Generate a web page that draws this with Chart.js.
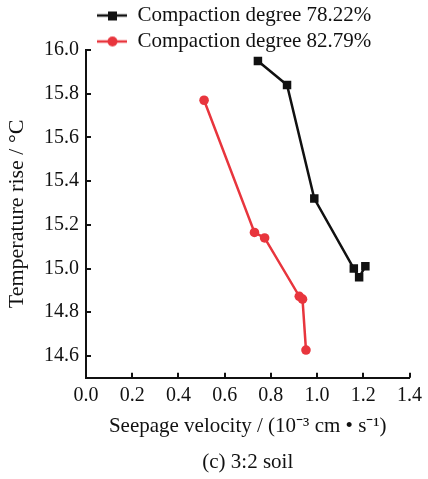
<!DOCTYPE html>
<html>
<head>
<meta charset="utf-8">
<script src="https://cdn.jsdelivr.net/npm/chart.js@4"></script>
<style>
  html, body { margin: 0; padding: 0; background: #fff; }
  #wrap { width: 428px; height: 479px; }
</style>
</head>
<body>
<div id="wrap"><canvas id="chart" width="428" height="479"></canvas></div>
<script>
// Datos
const seriesNames = ['Compaction degree 78.22%', 'Compaction degree 82.79%'];
const velocityA = [0.744, 0.870, 0.988, 1.159, 1.182, 1.209];
const tempA = [15.95, 15.84, 15.32, 15.00, 14.96, 15.01];
const velocityB = [0.511, 0.729, 0.773, 0.923, 0.937, 0.952];
const tempB = [15.77, 15.165, 15.14, 14.873, 14.86, 14.627];
const xTicks = [0.0, 0.2, 0.4, 0.6, 0.8, 1.0, 1.2, 1.4];
const yTicks = [14.6, 14.8, 15.0, 15.2, 15.4, 15.6, 15.8, 16.0];

const BLACK = '#111111';
const RED = '#e8353d';
const FONT = 'Liberation Serif, Times New Roman, serif';

function toPoints(xs, ys) {
    return xs.map((x, i) => ({ x: x, y: ys[i] }));
}

// Icono de leyenda: línea con marcador
function legendIcon(color, shape) {
    const c = document.createElement('canvas');
    c.width = 36;
    c.height = 14;
    const g = c.getContext('2d');
    g.strokeStyle = color;
    g.fillStyle = color;
    g.lineWidth = 2.5;
    g.beginPath();
    g.moveTo(6, 7);
    g.lineTo(36, 7);
    g.stroke();
    if (shape === 'rect') {
        g.fillRect(17, 3, 9, 9);
    } else {
        g.beginPath();
        g.arc(21.5, 7, 5, 0, Math.PI * 2);
        g.fill();
    }
    return c;
}

const icons = [legendIcon(BLACK, 'rect'), legendIcon(RED, 'circle')];

// La leyenda se recorta a su caja: se amplía para no cortar la segunda fila
const legendRoom = {
    id: 'legendRoom',
    afterLayout(chart) {
        if (chart.legend) {
            chart.legend.bottom += 12;
        }
    }
};

// Marcas de escala hacia dentro
const inwardTicks = {
    id: 'inwardTicks',
    afterDraw(chart) {
        const ctx = chart.ctx;
        const xs = chart.scales.x;
        const ys = chart.scales.y;
        const len = 5;
        ctx.save();
        ctx.strokeStyle = BLACK;
        ctx.lineWidth = 2;
        ctx.beginPath();
        xs.ticks.forEach(t => {
            const px = Math.round(xs.getPixelForValue(t.value));
            ctx.moveTo(px, ys.bottom);
            ctx.lineTo(px, ys.bottom - len);
        });
        ys.ticks.forEach(t => {
            const py = Math.round(ys.getPixelForValue(t.value));
            ctx.moveTo(xs.left, py);
            ctx.lineTo(xs.left + len, py);
        });
        ctx.stroke();
        ctx.restore();
    }
};

const ctx = document.getElementById('chart').getContext('2d');
new Chart(ctx, {
    type: 'line',
    data: {
        datasets: [
            {
                label: seriesNames[0],
                data: toPoints(velocityA, tempA),
                borderColor: BLACK,
                backgroundColor: BLACK,
                borderWidth: 2.5,
                pointStyle: 'rect',
                pointRadius: 6,
                pointBorderWidth: 0,
                tension: 0
            },
            {
                label: seriesNames[1],
                data: toPoints(velocityB, tempB),
                borderColor: RED,
                backgroundColor: RED,
                borderWidth: 2.5,
                pointStyle: 'circle',
                pointRadius: 4.8,
                pointBorderWidth: 0,
                tension: 0
            }
        ]
    },
    options: {
        responsive: false,
        animation: false,
        layout: { padding: 0 },
        plugins: {
            legend: {
                position: 'top',
                align: 'start',
                fullSize: false,
                maxHeight: 50,
                labels: {
                    usePointStyle: true,
                    pointStyleWidth: 36,
                    padding: 5,
                    color: BLACK,
                    font: { family: FONT, size: 21 },
                    generateLabels: chart => chart.data.datasets.map((ds, i) => ({
                        text: ds.label,
                        pointStyle: icons[i],
                        fillStyle: ds.borderColor,
                        strokeStyle: ds.borderColor,
                        lineWidth: 0,
                        fontColor: BLACK,
                        datasetIndex: i
                    }))
                }
            },
            title: {
                display: true,
                text: '(c) 3:2 soil',
                position: 'bottom',
                fullSize: false,
                color: BLACK,
                font: { family: FONT, size: 21, weight: 'normal' },
                padding: { top: 0, bottom: 4 }
            },
            tooltip: { enabled: false }
        },
        scales: {
            x: {
                type: 'linear',
                min: 0,
                max: 1.4,
                afterBuildTicks: scale => { scale.ticks = xTicks.map(v => ({ value: v })); },
                afterFit: scale => { scale.height = 72; },
                grid: { display: true, drawOnChartArea: false, drawTicks: false },
                border: { display: true, color: BLACK, width: 2 },
                ticks: {
                    color: BLACK,
                    padding: 6,
                    maxRotation: 0,
                    font: { family: FONT, size: 20 },
                    callback: v => v.toFixed(1)
                },
                title: {
                    display: true,
                    text: 'Seepage velocity / (10\u207B\u00B3 cm \u2022 s\u207B\u00B9)',
                    color: BLACK,
                    font: { family: FONT, size: 21 },
                    padding: { top: 0, bottom: 11 }
                }
            },
            y: {
                type: 'linear',
                min: 14.5,
                max: 16.0,
                afterBuildTicks: scale => { scale.ticks = yTicks.map(v => ({ value: v })); },
                afterFit: scale => { scale.width = 86; },
                grid: { display: true, drawOnChartArea: false, drawTicks: false },
                border: { display: true, color: BLACK, width: 2 },
                ticks: {
                    color: BLACK,
                    padding: 7,
                    font: { family: FONT, size: 20 },
                    callback: v => v.toFixed(1)
                },
                title: {
                    display: true,
                    text: 'Temperature rise / \u00B0C',
                    color: BLACK,
                    font: { family: FONT, size: 22 },
                    padding: { top: 4, bottom: 0 }
                }
            }
        }
    },
    plugins: [legendRoom, inwardTicks]
});
</script>
</body>
</html>
